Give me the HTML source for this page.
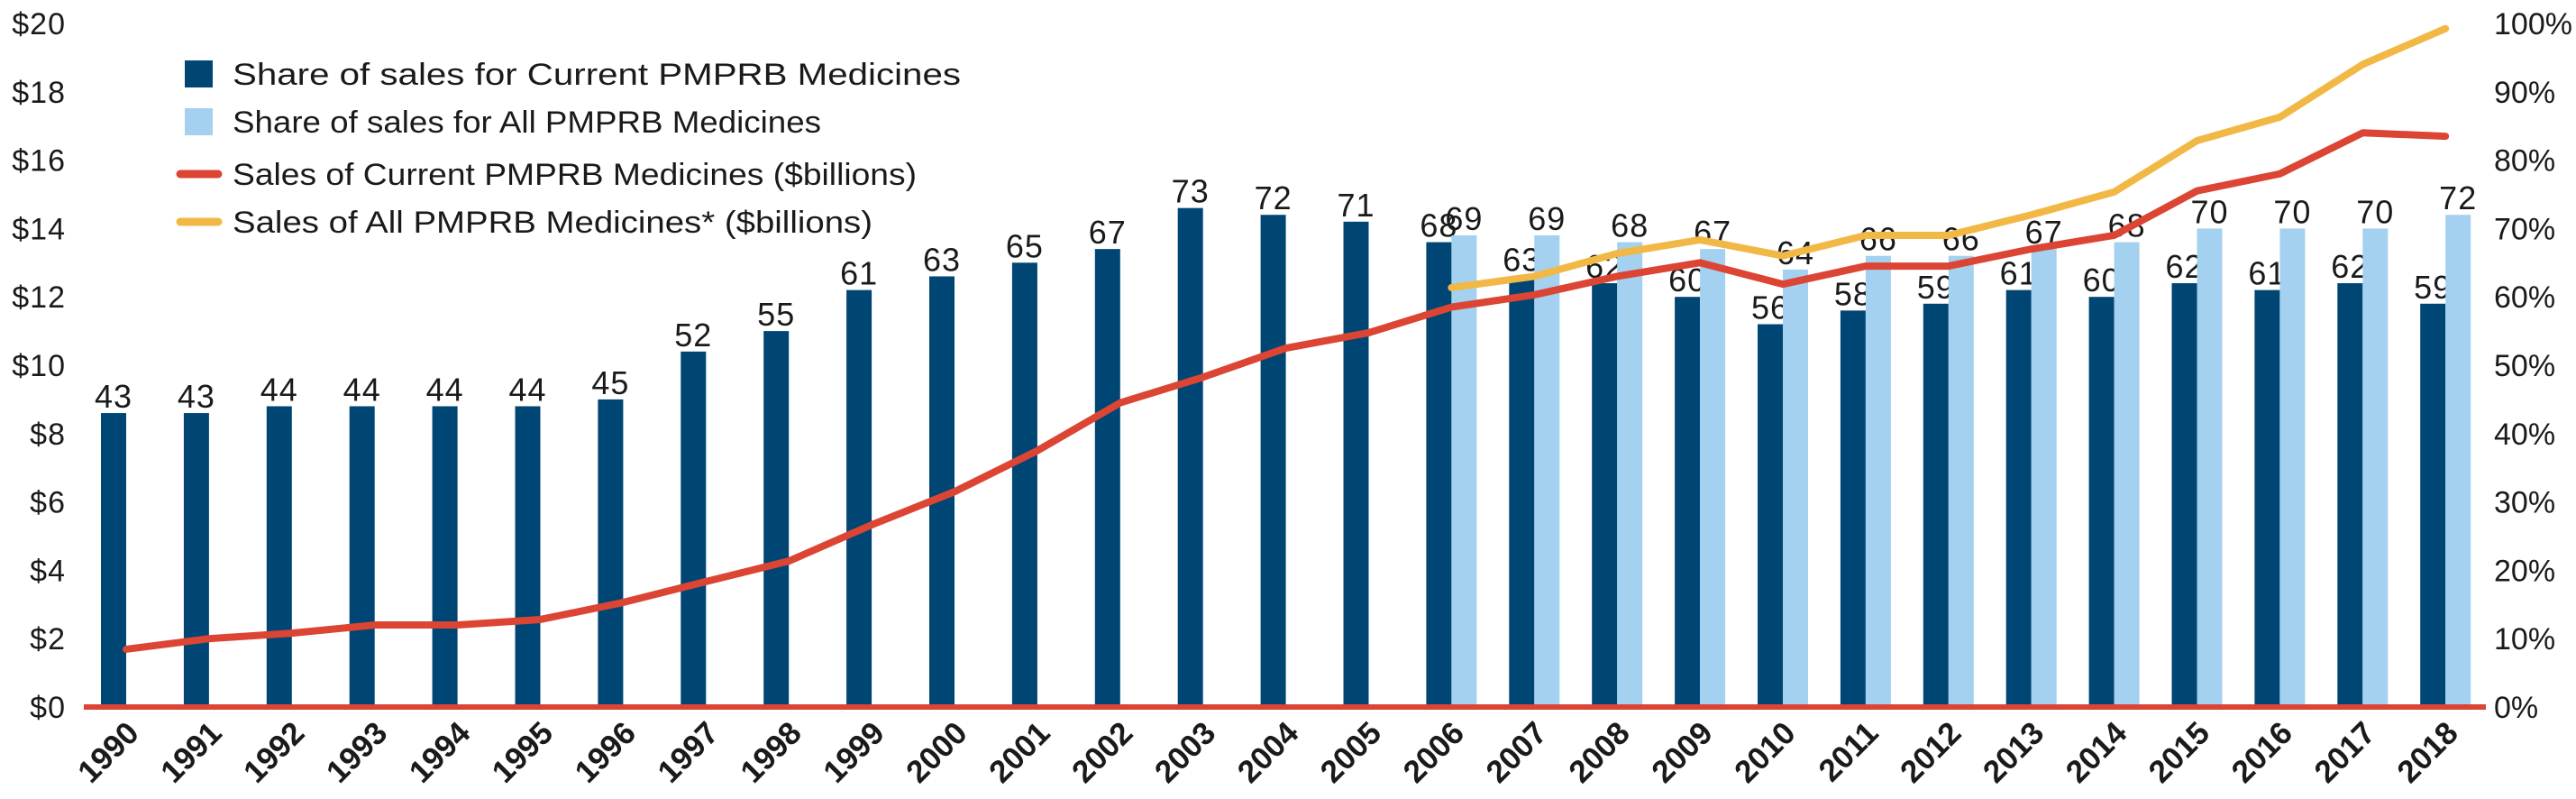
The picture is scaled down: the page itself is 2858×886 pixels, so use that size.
<!DOCTYPE html>
<html><head><meta charset="utf-8">
<style>
html,body{margin:0;padding:0;background:#fff;}
svg{display:block;font-family:"Liberation Sans",sans-serif;}
</style></head>
<body>
<svg id="chart" width="2858" height="886" viewBox="0 0 2858 886" xmlns="http://www.w3.org/2000/svg">
  <g id="legend">
    <rect x="205" y="67" width="31" height="30" fill="#004674"/>
    <text x="258" y="94" font-size="34" fill="#1a1a1a" textLength="808" lengthAdjust="spacingAndGlyphs">Share of sales for Current PMPRB Medicines</text>
    <rect x="205" y="120" width="31" height="30" fill="#a3d1ef"/>
    <text x="258" y="147" font-size="34" fill="#1a1a1a" textLength="653" lengthAdjust="spacingAndGlyphs">Share of sales for All PMPRB Medicines</text>
    <line x1="200" y1="193" x2="242" y2="193" stroke="#dc4433" stroke-width="9" stroke-linecap="round"/>
    <text x="258" y="205" font-size="34" fill="#1a1a1a" textLength="759" lengthAdjust="spacingAndGlyphs">Sales of Current PMPRB Medicines ($billions)</text>
    <line x1="200" y1="246" x2="242" y2="246" stroke="#f2b846" stroke-width="9" stroke-linecap="round"/>
    <text x="258" y="258" font-size="34" fill="#1a1a1a" textLength="710" lengthAdjust="spacingAndGlyphs">Sales of All PMPRB Medicines* ($billions)</text>
  </g>
</svg>
<script>
const years = [1990,1991,1992,1993,1994,1995,1996,1997,1998,1999,2000,2001,2002,2003,2004,2005,2006,2007,2008,2009,2010,2011,2012,2013,2014,2015,2016,2017,2018];
const currentShare = [43,43,44,44,44,44,45,52,55,61,63,65,67,73,72,71,68,63,62,60,56,58,59,61,60,62,61,62,59];
const allShareYears = [2006,2007,2008,2009,2010,2011,2012,2013,2014,2015,2016,2017,2018];
const allShare = [69,69,68,67,64,66,66,67,68,70,70,70,72];
const currentSales = [1.69,2.0,2.16,2.4,2.4,2.56,3.06,3.67,4.27,5.33,6.3,7.5,8.9,9.65,10.5,10.95,11.7,12.06,12.6,13.0,12.37,12.9,12.9,13.4,13.8,15.1,15.6,16.8,16.7];
const allSales = [12.27,12.6,13.27,13.67,13.2,13.8,13.8,14.4,15.07,16.57,17.26,18.8,19.85];
const leftTicks = ["$0","$2","$4","$6","$8","$10","$12","$14","$16","$18","$20"];
const rightTicks = ["0%","10%","20%","30%","40%","50%","60%","70%","80%","90%","100%"];

const svg = document.getElementById('chart');
const NS = 'http://www.w3.org/2000/svg';
const Y0 = 784, YTOP = 26;
function yDollar(v){ return Y0 - v/20*(Y0-YTOP); }
function yPct(p){ return Y0 - p/100*(Y0-YTOP); }
function xc(year){ return 126 + (year-1990)*91.9; }
const BW = 28;
function mk(tag, attrs){ const e=document.createElementNS(NS,tag); for(const k in attrs) e.setAttribute(k,attrs[k]); return e; }

const gAxes = mk('g',{});


svg.appendChild(gAxes);
leftTicks.forEach((t,i)=>{
  const el = mk('text',{x:73,y:yDollar(i*2)+12,'font-size':34,'letter-spacing':1,'text-anchor':'end',fill:'#1a1a1a'});
  el.textContent=t;
  
  
  gAxes.appendChild(el);
});
rightTicks.forEach((t,i)=>{
  const el = mk('text',{x:2767,y:yPct(i*10)+12,'font-size':34,fill:'#1a1a1a'});
  el.textContent=t;
  
  
  gAxes.appendChild(el);
});

const gBars = mk('g',{});


svg.appendChild(gBars);
years.forEach((yr,i)=>{
  const x = xc(yr)-BW/2, top = yPct(currentShare[i]);
  const r = mk('rect',{x:x,y:top,width:BW,height:Y0-top,fill:'#004674'});
  
  
  gBars.appendChild(r);
  const t = mk('text',{x:x+BW/2,y:top-6,'font-size':36,'letter-spacing':1,'text-anchor':'middle',fill:'#1a1a1a'});
  t.textContent = currentShare[i];
  
  
  gBars.appendChild(t);
});
allShareYears.forEach((yr,i)=>{
  const x = xc(yr)+BW/2, top = yPct(allShare[i]);
  const r = mk('rect',{x:x,y:top,width:BW,height:Y0-top,fill:'#a3d1ef'});
  
  
  gBars.appendChild(r);
  const t = mk('text',{x:x+BW/2,y:top-6,'font-size':36,'letter-spacing':1,'text-anchor':'middle',fill:'#1a1a1a'});
  t.textContent = allShare[i];
  
  
  gBars.appendChild(t);
});

const zl = mk('line',{x1:93,y1:Y0,x2:2758,y2:Y0,stroke:'#dc4433','stroke-width':6});


svg.appendChild(zl);

const redPts = years.map((yr,i)=>(xc(yr)+14)+','+yDollar(currentSales[i])).join(' ');
const red = mk('polyline',{points:redPts,fill:'none',stroke:'#dc4433','stroke-width':8,'stroke-linecap':'round','stroke-linejoin':'round'});


svg.appendChild(red);
const yelPts = allShareYears.map((yr,i)=>(xc(yr)+14)+','+yDollar(allSales[i])).join(' ');
const yel = mk('polyline',{points:yelPts,fill:'none',stroke:'#f2b846','stroke-width':8,'stroke-linecap':'round','stroke-linejoin':'round'});


svg.appendChild(yel);

years.forEach(yr=>{
  const ax = xc(yr)+30, ay = 815;
  const t = mk('text',{x:ax,y:ay,'font-size':35,'font-weight':'bold','text-anchor':'end',fill:'#1a1a1a',transform:'rotate(-45 '+ax+' '+ay+')'});
  t.textContent = yr;
  
  
  svg.appendChild(t);
});
</script>
</body></html>
